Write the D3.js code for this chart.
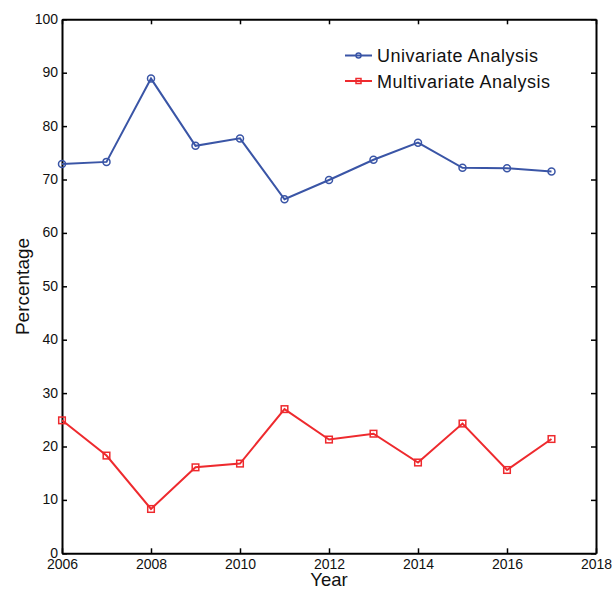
<!DOCTYPE html>
<html>
<head>
<meta charset="utf-8">
<script src="https://cdn.jsdelivr.net/npm/d3@7"></script>
<style>
  html, body { margin: 0; padding: 0; background: #fff; }
  svg { display: block; font-family: "Liberation Sans", Arial, sans-serif; }
</style>
</head>
<body>
<svg id="chart" width="612" height="589"></svg>
<script>
// Years on the x axis
const years = [2006, 2007, 2008, 2009, 2010, 2011, 2012, 2013, 2014, 2015, 2016, 2017];
// Share of studies using each analysis type (%)
const univariate = [72.9, 73.3, 88.9, 76.3, 77.7, 66.3, 69.9, 73.7, 76.9, 72.2, 72.1, 71.5];
const multivariate = [24.9, 18.3, 8.3, 16.1, 16.8, 27.0, 21.3, 22.4, 17.0, 24.3, 15.6, 21.4];
// Tick values
const xTicks = [2006, 2008, 2010, 2012, 2014, 2016, 2018];
const yTicks = [0, 10, 20, 30, 40, 50, 60, 70, 80, 90, 100];
const seriesNames = ["Univariate Analysis", "Multivariate Analysis"];

const svg = d3.select("#chart");
const plot = { left: 62, right: 596, top: 19.3, bottom: 553.3 };

const x = d3.scaleLinear().domain([2006, 2018]).range([plot.left, plot.right]);
const y = d3.scaleLinear().domain([0, 100]).range([plot.bottom, plot.top]);

const tickLen = 5;
const axisColor = "#000";

// Box axes with inward ticks
function styleAxis(g) {
  g.select(".domain").attr("stroke", axisColor).attr("stroke-width", 2);
  g.selectAll(".tick line").attr("stroke", axisColor).attr("stroke-width", 1.5);
}

svg.append("g")
  .attr("transform", `translate(0,${plot.bottom})`)
  .call(d3.axisBottom(x).tickValues(xTicks).tickFormat(d3.format("d")).tickSizeInner(-tickLen).tickSizeOuter(0).tickPadding(6))
  .call(styleAxis)
  .call(g => g.selectAll("text").attr("font-size", 14).attr("fill", "#111"));

svg.append("g")
  .attr("transform", `translate(0,${plot.top})`)
  .call(d3.axisTop(x).tickValues(xTicks).tickFormat("").tickSizeInner(-tickLen).tickSizeOuter(0))
  .call(styleAxis);

svg.append("g")
  .attr("transform", `translate(${plot.left},0)`)
  .call(d3.axisLeft(y).tickValues(yTicks).tickSizeInner(-tickLen).tickSizeOuter(0).tickPadding(4))
  .call(styleAxis)
  .call(g => g.selectAll("text").attr("font-size", 14).attr("fill", "#111").attr("dy", "0.28em"));

svg.append("g")
  .attr("transform", `translate(${plot.right},0)`)
  .call(d3.axisRight(y).tickValues(yTicks).tickFormat("").tickSizeInner(-tickLen).tickSizeOuter(0))
  .call(styleAxis);

// Axis titles
svg.append("text")
  .attr("x", (plot.left + plot.right) / 2)
  .attr("y", 585.5)
  .attr("text-anchor", "middle")
  .attr("font-size", 18.5)
  .attr("fill", "#111")
  .text("Year");

svg.append("text")
  .attr("transform", `translate(29,286.5) rotate(-90)`)
  .attr("text-anchor", "middle")
  .attr("font-size", 19)
  .attr("fill", "#111")
  .text("Percentage");

const blue = "#3a55a6";
const red = "#ee2a2e";

const line = d3.line().x((d, i) => x(years[i])).y(d => y(d));

// Univariate series: line with hollow circle markers
svg.append("path").datum(univariate)
  .attr("d", line).attr("fill", "none").attr("stroke", blue).attr("stroke-width", 2);
svg.append("g").selectAll("circle").data(univariate).join("circle")
  .attr("cx", (d, i) => x(years[i])).attr("cy", d => y(d)).attr("r", 3.5)
  .attr("fill", "none").attr("stroke", blue).attr("stroke-width", 1.5);

// Multivariate series: line with hollow square markers
svg.append("path").datum(multivariate)
  .attr("d", line).attr("fill", "none").attr("stroke", red).attr("stroke-width", 2);
svg.append("g").selectAll("rect").data(multivariate).join("rect")
  .attr("x", (d, i) => x(years[i]) - 3.3).attr("y", d => y(d) - 3.3)
  .attr("width", 6.6).attr("height", 6.6)
  .attr("fill", "none").attr("stroke", red).attr("stroke-width", 1.5);

// Legend
const legend = svg.append("g");
const legendRows = [
  { name: seriesNames[0], color: blue, marker: "circle", y: 55.5 },
  { name: seriesNames[1], color: red, marker: "square", y: 81 }
];
legendRows.forEach(r => {
  legend.append("line").attr("x1", 345).attr("x2", 372).attr("y1", r.y).attr("y2", r.y)
    .attr("stroke", r.color).attr("stroke-width", 2);
  if (r.marker === "circle") {
    legend.append("circle").attr("cx", 358.5).attr("cy", r.y).attr("r", 2.5)
      .attr("fill", "none").attr("stroke", r.color).attr("stroke-width", 1.5);
  } else {
    legend.append("rect").attr("x", 356).attr("y", r.y - 2.5).attr("width", 5).attr("height", 5)
      .attr("fill", "none").attr("stroke", r.color).attr("stroke-width", 1.5);
  }
  legend.append("text").attr("x", 377).attr("y", r.y + 6.5)
    .attr("font-size", 18).attr("letter-spacing", 0.5).attr("fill", "#111").text(r.name);
});
</script>
</body>
</html>
